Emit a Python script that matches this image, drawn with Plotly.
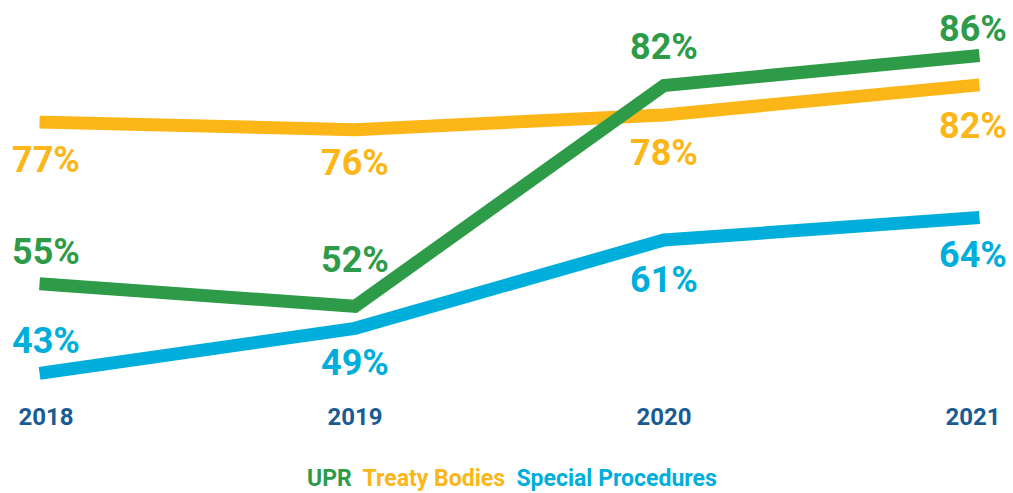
import plotly.graph_objects as go

years = ["2018", "2019", "2020", "2021"]
upr = [55, 52, 82, 86]
treaty_bodies = [77, 76, 78, 82]
special_procedures = [43, 49, 61, 64]

series_names = ["UPR", "Treaty Bodies", "Special Procedures"]
colors = {"UPR": "#2e9b49", "Treaty Bodies": "#fcb618", "Special Procedures": "#00aedb"}
# label pixel offsets (style): positive = above the point
label_shift = {
    "UPR": [32, 46, 38, 27],
    "Treaty Bodies": [-38, -33, -38, -41],
    "Special Procedures": [32, -35, -40, -37],
}
values = {"UPR": upr, "Treaty Bodies": treaty_bodies, "Special Procedures": special_procedures}

FONT = "Roboto, Arial, sans-serif"
xpos = list(range(len(years)))

fig = go.Figure()
annotations = []
for name in ["Special Procedures", "Treaty Bodies", "UPR"]:
    vals = values[name]
    fig.add_trace(go.Scatter(
        x=xpos, y=vals, mode="lines", name=name,
        line=dict(color=colors[name], width=13),
        hoverinfo="skip", showlegend=False,
    ))
    for i, v in enumerate(vals):
        annotations.append(dict(
            x=xpos[i], y=v, xref="x", yref="y", text=f"{v}%",
            showarrow=False, yshift=label_shift[name][i],
            xanchor="center", yanchor="middle",
            font=dict(family=FONT, size=36, color=colors[name], weight=700),
        ))

L, R, T, B = 15, 9, 20, 93
W, H = 1013, 493
plot_h = H - T - B

legend_text = "  ".join(
    f"<span style='color:{colors[n]}'>{n}</span>" for n in series_names
)
annotations.append(dict(
    x=(512 - L) / (W - L - R), y=-(478 - (H - B)) / plot_h, xref="paper", yref="paper",
    yanchor="middle", xanchor="center",
    text=legend_text, showarrow=False, borderpad=0,
    font=dict(family=FONT, size=23, weight=700),
))

ppx = (973 - 46) / 3.0
x0 = -(46 - L) / ppx
x1 = 3 + ((W - R) - 973) / ppx
# y: pixel = 689 - 7.36*v
y_top = (689 - T) / 7.36
y_bot = (689 - (H - B)) / 7.36

fig.update_layout(
    width=W, height=H,
    margin=dict(l=L, r=R, t=T, b=B),
    paper_bgcolor="white", plot_bgcolor="white",
    annotations=annotations,
    xaxis=dict(
        range=[x0, x1], tickvals=xpos, ticktext=years,
        showgrid=False, zeroline=False, showline=False,
        ticks="",
        tickfont=dict(family=FONT, size=24, color="#1a5b93", weight=700),
        fixedrange=True,
    ),
    yaxis=dict(
        range=[y_bot, y_top], visible=False, fixedrange=True,
    ),
    showlegend=False,
)

post = """
document.body.style.margin='0';
document.body.style.overflow='hidden';
var paths = document.querySelectorAll('.scatterlayer .js-line');
paths.forEach(function(p){ p.style.strokeLinecap='square'; p.style.strokeLinejoin='miter'; });
"""

fig.write_html("out.html", post_script=post, config={"displayModeBar": False})
